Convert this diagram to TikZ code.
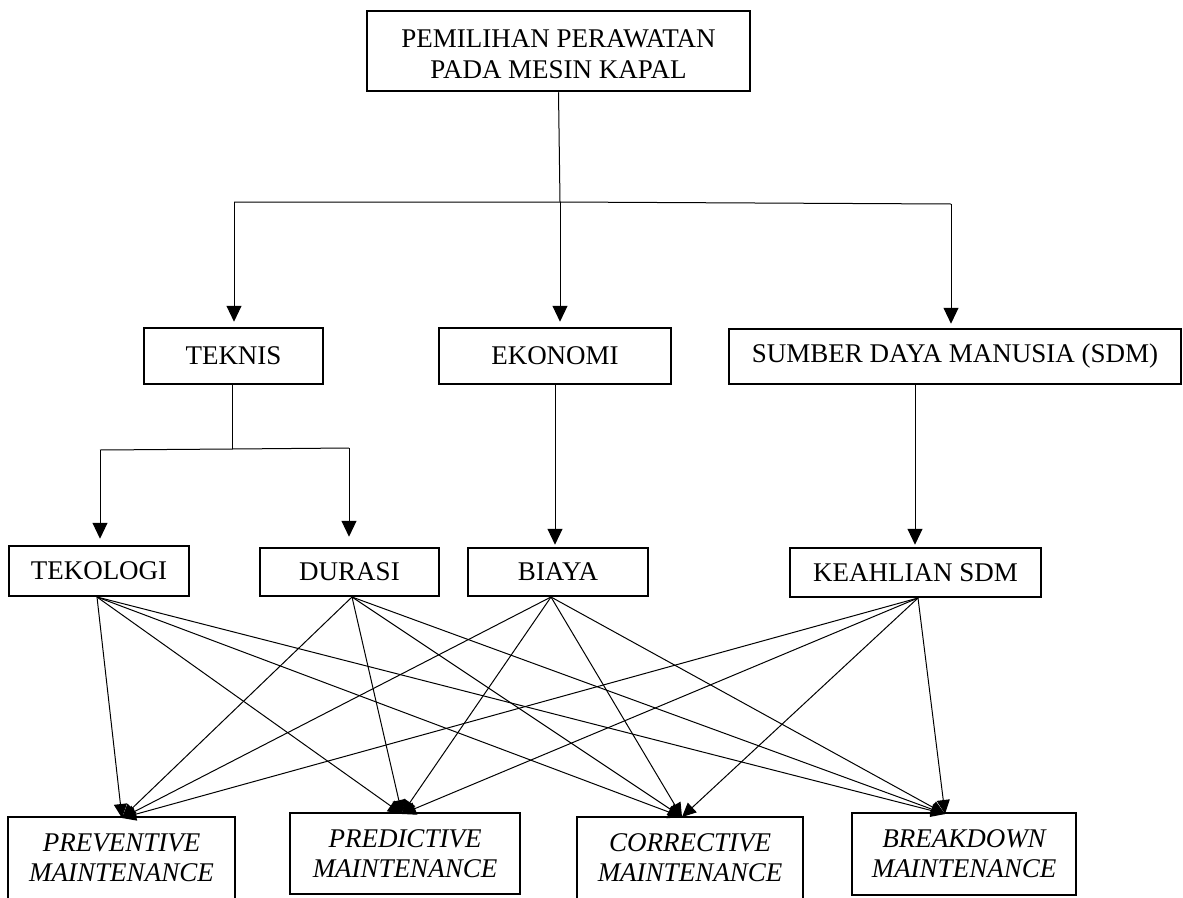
\documentclass[tikz,border=0pt]{standalone}
\usepackage{fontspec}
\setmainfont{Liberation Serif}
\usetikzlibrary{arrows.meta}
\begin{document}
\begin{tikzpicture}[x=1pt,y=-1pt,
  box/.style={draw, line width=2.5pt, inner sep=0pt, align=center,
              font=\fontsize{27}{31}\selectfont},
  ibox/.style={box, font=\fontsize{27}{30}\selectfont\itshape},
  conn/.style={line width=1pt},
  arr/.style={line width=1pt, -{Triangle[width=15pt,length=16pt]}},
  fan/.style={line width=1pt, -{Triangle[width=13pt,length=14pt]}}]
\useasboundingbox (0,0) rectangle (1183,897);
\clip (0,0) rectangle (1183,897);

% top
\node[box, minimum width=383pt, minimum height=80pt] (top) at (558.5,51)
  {\rule{0pt}{24pt}PEMILIHAN PERAWATAN\\PADA MESIN KAPAL};

% level 2
\node[box, minimum width=179pt, minimum height=56pt] (tek2) at (233.5,356) {TEKNIS};
\node[box, minimum width=232pt, minimum height=56pt] (eko) at (555,356) {EKONOMI};
\node[box, minimum width=452pt, minimum height=55pt] (sdm) at (955,356.5) {SUMBER DAYA MANUSIA (SDM)};

% level 3
\node[box, minimum width=180pt, minimum height=50pt] (tek) at (99,571) {TEKOLOGI};
\node[box, minimum width=179pt, minimum height=48pt] (dur) at (349.5,572) {DURASI};
\node[box, minimum width=180pt, minimum height=48pt] (bia) at (558,572) {BIAYA};
\node[box, minimum width=251pt, minimum height=49pt] (kea) at (915.5,572.5) {KEAHLIAN SDM};

% level 4
\node[ibox, minimum width=227pt, minimum height=82pt] (pv) at (121.5,858) {PREVENTIVE\\MAINTENANCE};
\node[ibox, minimum width=230pt, minimum height=81pt] (pd) at (405,853.5) {PREDICTIVE\\MAINTENANCE};
\node[ibox, minimum width=226pt, minimum height=82pt] (co) at (690,858) {CORRECTIVE\\MAINTENANCE};
\node[ibox, minimum width=224pt, minimum height=82pt] (bk) at (964,854) {BREAKDOWN\\MAINTENANCE};

% top distribution
\coordinate (j1) at (560,202);
\coordinate (jl) at (234,202);
\coordinate (jr) at (951,204);
\draw[conn] (top.south) -- (j1);
\draw[conn] (jl) -- (j1) -- (jr);
\draw[arr, shorten >=5pt] (jl) -- (jl |- tek2.north);
\draw[arr, shorten >=5pt] (j1) -- (j1 |- eko.north);
\draw[arr, shorten >=4pt] (jr) -- (jr |- sdm.north);

% teknis distribution
\coordinate (j2) at (232,449);
\coordinate (j2l) at (100,450);
\coordinate (j2r) at (349,448);
\draw[conn] (tek2.south -| j2) -- (j2);
\draw[conn] (j2l) -- (j2) -- (j2r);
\draw[arr, shorten >=6pt] (j2l) -- (j2l |- tek.north);
\draw[arr, shorten >=10pt] (j2r) -- (j2r |- dur.north);

% ekonomi, sdm
\draw[arr, shorten >=2pt] (eko.south) -- (eko.south |- bia.north);
\coordinate (js) at (915,384);
\draw[arr, shorten >=2pt] (js) -- (js |- kea.north);

% fan sources and targets
\coordinate (s-tek) at (97,597);
\coordinate (s-dur) at (352,597);
\coordinate (s-bia) at (551,597);
\coordinate (s-kea) at (918,598);
\coordinate (t-pv) at (122,818);
\coordinate (t-pd) at (402,814);
\coordinate (t-co) at (682,817);
\coordinate (t-bk) at (945,814);
\foreach \s in {tek,dur,bia,kea}{
  \foreach \t in {pv,pd,co,bk}{
    \draw[fan] (s-\s) -- (t-\t);
  }
}
\end{tikzpicture}
\end{document}
